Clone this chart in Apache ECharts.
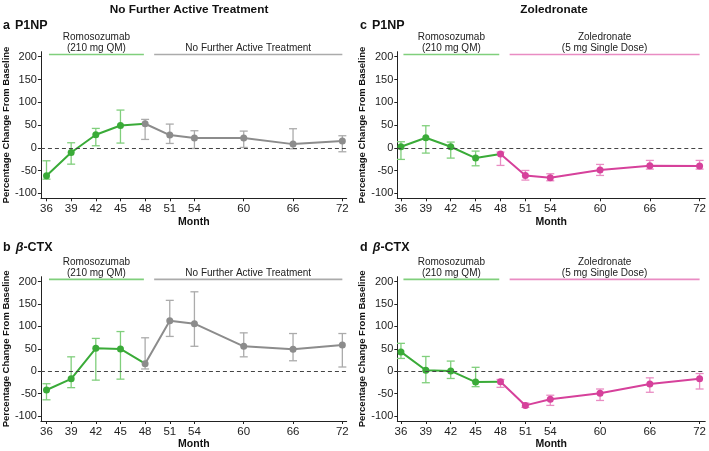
<!DOCTYPE html>
<html>
<head>
<meta charset="utf-8">
<script src="https://cdn.jsdelivr.net/npm/echarts@6/dist/echarts.min.js"></script>
<style>
html,body{margin:0;padding:0;background:#fff;}
#c{width:709px;height:451px;}
</style>
</head>
<body>
<div id="c"></div>
<script>
// ---------- DATA ----------
const months = [36, 39, 42, 45, 48, 51, 54, 60, 66, 72];
const monthTicks = [36, 39, 42, 45, 48, 51, 54, 60, 66, 72];
const yTicks = [-100, -50, 0, 50, 100, 150, 200];

// a: P1NP, no further active treatment
const aMean = [-61.5, -10.3, 28.6, 49, 52.7, 27.8, 21.2, 21.2, 8, 14.7];
const aLow  = [-69, -36, 4.4, 10.3, 18.3, 9.5, -1.5, 0.7, -2.2, -8.8];
const aHigh = [-28.6, 11, 42.5, 82.8, 62.3, 52, 37.4, 36.6, 41.8, 26.4];
// b: beta-CTX, no further active treatment
const bMean = [-41.8, -16.8, 51.3, 49.8, 16.8, 112.8, 106.2, 55.7, 49, 58.6];
const bLow  = [-63.7, -36.6, -19.8, -17.6, 5.1, 77.7, 55.7, 32.2, 23.4, 9.5];
const bHigh = [-27.8, 32.2, 73.3, 88.6, 74.7, 158.2, 177.3, 85.7, 84.2, 84.2];
// c: P1NP, zoledronate
const cMean = [2.2, 22, 2.2, -22.7, -13.9, -60.8, -65.9, -49, -39.6, -40.3];
const cLow  = [-25.6, -11.7, -22.7, -39.6, -38.8, -71, -72.5, -60.8, -46.9, -46.9];
const cHigh = [13.2, 48.4, 12.5, -7.3, -9.5, -49.8, -57.1, -36.6, -27.8, -27.8];
// d: beta-CTX, zoledronate
const dMean = [43.2, 2.2, 0.7, -24.2, -23.4, -76.2, -62.3, -49, -28.6, -16.8];
const dLow  = [28.6, -25.6, -16.1, -34.4, -35.9, -80.6, -76.2, -65.2, -46.9, -39.6];
const dHigh = [62.3, 33, 22.7, 8.8, -18.3, -71, -53.5, -39.6, -14.7, -5.1];

const phase1Range = [36.3, 47.85];
const phase2Range = [49.1, 72];
const phaseBarY = 205;
const romoLabel = ['Romosozumab', '(210 mg QM)'];
const nfatLabel = ['No Further Active Treatment'];
const zolLabel = ['Zoledronate', '(5 mg Single Dose)'];
const colTitles = ['No Further Active Treatment', 'Zoledronate'];
const splitIdx = 4; // month 48 starts phase 2 (points)

// ---------- STYLE ----------
const FONT = '"Liberation Sans", Arial, Helvetica, sans-serif';
const GREEN = '#3aab38', GREEN_L = '#80cf7c';
const GRAY = '#8c8c8c', GRAY_L = '#ababab';
const PINK = '#d6419b', PINK_L = '#e98cc3';

const panels = [
  {mean: aMean, low: aLow, high: aHigh, c2: GRAY, c2l: GRAY_L, lab2: nfatLabel, grid: {left: 36, top: 51.7, width: 310.7, height: 146.6}, xr: [35.32, 72.53]},
  {mean: bMean, low: bLow, high: bHigh, c2: GRAY, c2l: GRAY_L, lab2: nfatLabel, grid: {left: 36, top: 276.7, width: 310.7, height: 147.3}, xr: [35.32, 72.53]},
  {mean: cMean, low: cLow, high: cHigh, c2: PINK, c2l: PINK_L, lab2: zolLabel, grid: {left: 397.3, top: 51.7, width: 311, height: 146.6}, xr: [35.56, 72.68]},
  {mean: dMean, low: dLow, high: dHigh, c2: PINK, c2l: PINK_L, lab2: zolLabel, grid: {left: 397.3, top: 276.7, width: 311, height: 147.3}, xr: [35.56, 72.68]}
];

function errRender(color) {
  return function (params, api) {
    const x = api.value(0), lo = api.value(1), hi = api.value(2);
    const p1 = api.coord([x, hi]), p2 = api.coord([x, lo]);
    const w = 4;
    const st = {stroke: color, lineWidth: 1.3, fill: null};
    return {type: 'group', children: [
      {type: 'line', shape: {x1: p1[0], y1: p1[1], x2: p2[0], y2: p2[1]}, style: st},
      {type: 'line', shape: {x1: p1[0] - w, y1: p1[1], x2: p1[0] + w, y2: p1[1]}, style: st},
      {type: 'line', shape: {x1: p2[0] - w, y1: p2[1], x2: p2[0] + w, y2: p2[1]}, style: st}
    ]};
  };
}

const phaseItems = {};
function phaseRender(params, api) {
  const i = params.dataIndex;
  const x0 = api.value(0), x1 = api.value(1), y = api.value(2);
  const a = api.coord([x0, y]), b = api.coord([x1, y]);
  const item = phaseItems[params.seriesName][i];
  const children = [
    {type: 'line', shape: {x1: a[0], y1: a[1], x2: b[0], y2: a[1]}, style: {stroke: item.color, lineWidth: 1.6}}
  ];
  const lines = item.label;
  const cx = (a[0] + b[0]) / 2;
  for (let k = 0; k < lines.length; k++) {
    const yy = a[1] - 1.5 - (lines.length - 1 - k) * 10.5;
    children.push({type: 'text', style: {text: lines[k], x: cx, y: yy, textAlign: 'center', align: 'center', textVerticalAlign: 'bottom', verticalAlign: 'bottom', fill: '#222', font: '10px ' + FONT}});
  }
  return {type: 'group', children};
}

const grids = [], xAxes = [], yAxes = [], series = [];
panels.forEach((p, gi) => {
  grids.push(Object.assign({containLabel: false}, p.grid));
  xAxes.push({
    type: 'value', gridIndex: gi, min: p.xr[0], max: p.xr[1],
    name: 'Month', nameLocation: 'middle', nameGap: 18,
    nameTextStyle: {fontFamily: FONT, fontWeight: 'bold', fontSize: 10.5, color: '#111'},
    axisLine: {show: true, onZero: false, lineStyle: {color: '#222', width: 1}},
    axisTick: {show: true, length: 3, customValues: monthTicks, lineStyle: {color: '#222'}},
    axisLabel: {customValues: monthTicks, fontFamily: FONT, fontSize: 11.5, color: '#222', margin: 5},
    splitLine: {show: false}
  });
  yAxes.push({
    type: 'value', gridIndex: gi, min: -111, max: 211,
    name: 'Percentage Change From Baseline', nameLocation: 'middle', nameGap: gi < 2 ? 26 : 27, nameRotate: 90,
    nameTextStyle: {fontFamily: FONT, fontWeight: 'bold', fontSize: 9.5, color: '#111'},
    axisLine: {show: true, lineStyle: {color: '#222', width: 1}},
    axisTick: {show: true, length: 3, customValues: yTicks, lineStyle: {color: '#222'}},
    axisLabel: {customValues: yTicks, fontFamily: FONT, fontSize: 11, color: '#222', margin: 4},
    splitLine: {show: false}
  });
  const pts = months.map((m, i) => [m, p.mean[i]]);
  const errs = months.map((m, i) => [m, p.low[i], p.high[i]]);
  series.push({type: 'custom', name: 'err1_' + gi, xAxisIndex: gi, yAxisIndex: gi, z: 2, silent: true,
    renderItem: errRender(GREEN_L), data: errs.slice(0, splitIdx)});
  series.push({type: 'custom', name: 'err2_' + gi, xAxisIndex: gi, yAxisIndex: gi, z: 2, silent: true,
    renderItem: errRender(p.c2l), data: errs.slice(splitIdx)});
  const d1 = pts.slice(0, splitIdx + 1).map((v, i) => i === splitIdx ? {value: v, symbol: 'none'} : v);
  series.push({type: 'line', xAxisIndex: gi, yAxisIndex: gi, z: 4, data: d1, symbol: 'circle', symbolSize: 7,
    lineStyle: {color: GREEN, width: 2}, itemStyle: {color: GREEN}, animation: false, silent: true});
  series.push({type: 'line', xAxisIndex: gi, yAxisIndex: gi, z: 4, data: pts.slice(splitIdx), symbol: 'circle', symbolSize: 7,
    lineStyle: {color: p.c2, width: 2}, itemStyle: {color: p.c2}, animation: false, silent: true,
    markLine: {silent: true, symbol: 'none', label: {show: false}, animation: false,
      lineStyle: {color: '#444', type: [4, 3], width: 1.2}, data: [{yAxis: 0}]}});
  const nm = 'phase_' + gi;
  phaseItems[nm] = [{color: GREEN_L, label: romoLabel}, {color: p.c2l, label: p.lab2}];
  series.push({type: 'custom', name: nm, xAxisIndex: gi, yAxisIndex: gi, clip: false, silent: true, z: 3,
    renderItem: phaseRender,
    data: [[phase1Range[0], phase1Range[1], phaseBarY], [phase2Range[0], phase2Range[1], phaseBarY]]});
});

const titleStyle = {fontFamily: FONT, fontWeight: 'bold', fontSize: 11.8, color: '#111'};
const PFS = 12.5;
const panelRich = {
  l: {fontFamily: FONT, fontWeight: 'bold', fontSize: PFS, color: '#111'},
  s: {fontFamily: FONT, fontWeight: 'bold', fontSize: PFS, color: '#111'},
  g: {fontFamily: FONT, fontWeight: 'bold', fontStyle: 'italic', fontSize: PFS, color: '#111'}
};
const titles = [
  {text: colTitles[0], left: 189, top: 4, padding: 0, textAlign: 'center', textStyle: titleStyle},
  {text: colTitles[1], left: 554, top: 4, padding: 0, textAlign: 'center', textStyle: titleStyle},
  {text: '{l|a} {s|P1NP}', left: 3, top: 17, padding: 0, textStyle: {rich: panelRich}},
  {text: '{l|b} {g|β}{s|-CTX}', left: 3, top: 239, padding: 0, textStyle: {rich: panelRich}},
  {text: '{l|c} {s|P1NP}', left: 360, top: 17, padding: 0, textStyle: {rich: panelRich}},
  {text: '{l|d} {g|β}{s|-CTX}', left: 360, top: 239, padding: 0, textStyle: {rich: panelRich}}
];

const chart = echarts.init(document.getElementById('c'), null, {renderer: 'canvas'});
chart.setOption({
  animation: false,
  backgroundColor: '#fff',
  title: titles,
  grid: grids,
  xAxis: xAxes,
  yAxis: yAxes,
  series: series
});
</script>
</body>
</html>
